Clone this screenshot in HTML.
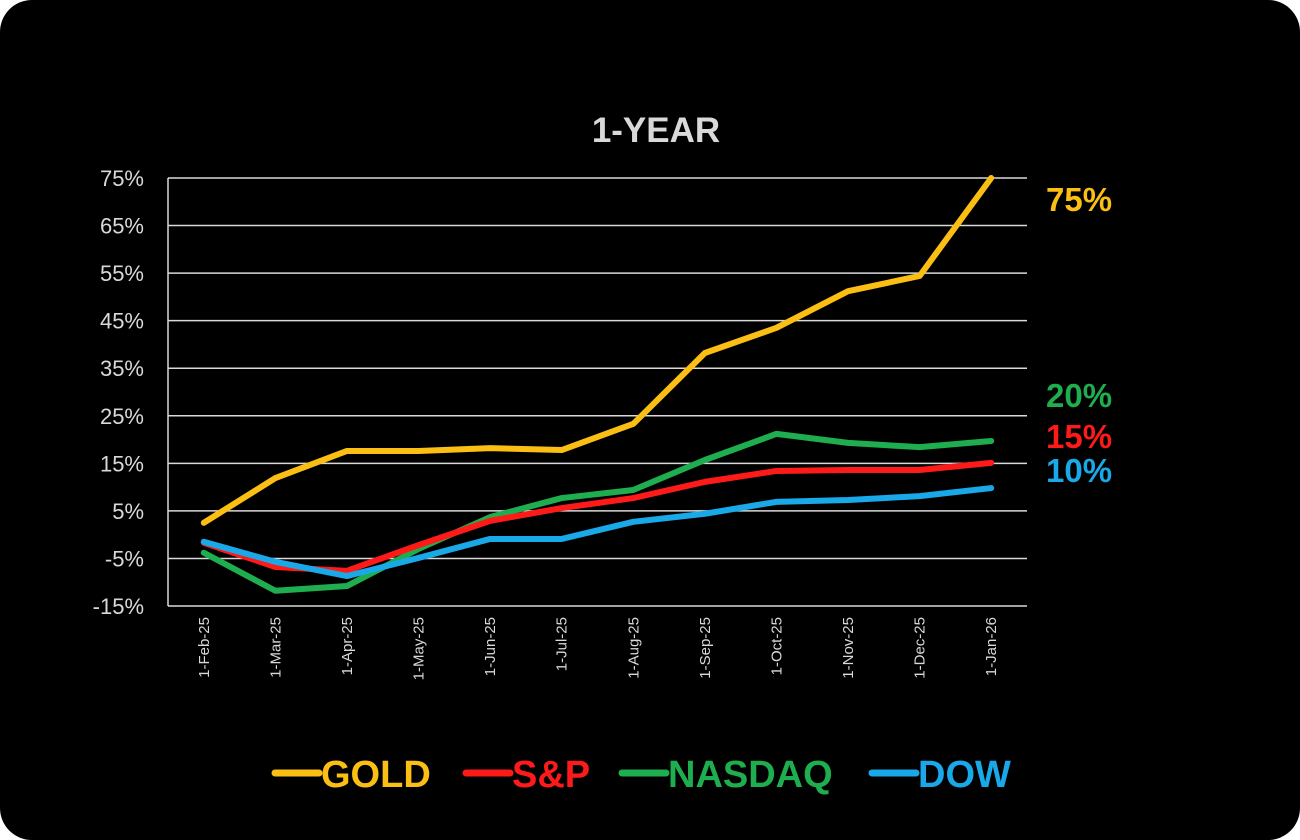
<!DOCTYPE html>
<html><head><meta charset="utf-8"><style>
html,body{margin:0;padding:0;background:#fff;width:1300px;height:840px;overflow:hidden}
#frame{position:absolute;left:0;top:0;width:1300px;height:840px;background:#000;border-radius:32px}
svg{position:absolute;left:0;top:0}
text{font-family:"Liberation Sans",Arial,sans-serif}
</style></head><body>
<div id="frame">
<svg id="chart" width="1300" height="840"></svg>
</div>
<script>
const categories=["1-Feb-25","1-Mar-25","1-Apr-25","1-May-25","1-Jun-25","1-Jul-25","1-Aug-25","1-Sep-25","1-Oct-25","1-Nov-25","1-Dec-25","1-Jan-26"];
const goldValues=[2.5,11.9,17.6,17.6,18.2,17.8,23.3,38.2,43.5,51.2,54.4,75];
const spValues=[-1.7,-6.8,-7.6,-2.2,2.9,5.6,7.7,11.1,13.4,13.6,13.6,15.1];
const nasdaqValues=[-3.8,-11.8,-10.8,-3,3.7,7.7,9.4,15.7,21.2,19.3,18.4,19.7];
const dowValues=[-1.5,-5.7,-8.7,-4.9,-0.9,-0.9,2.7,4.4,6.9,7.3,8.1,9.8];
const yTicks=[75,65,55,45,35,25,15,5,-5,-15];
const seriesNames=["GOLD","S&P","NASDAQ","DOW"];
const endLabels=["75%","20%","15%","10%"];

const NS="http://www.w3.org/2000/svg";
const svg=document.getElementById('chart');
const X0=168,X1=1027,Y0=178,Y1=606,YMAX=75,YMIN=-15;
const bw=(X1-X0)/categories.length;
function xs(i){return X0+bw*(i+0.5);}
function ys(v){return Y0+(YMAX-v)/(YMAX-YMIN)*(Y1-Y0);}
function mk(tag,attrs,parent){const e=document.createElementNS(NS,tag);for(const k in attrs)e.setAttribute(k,attrs[k]);(parent||svg).appendChild(e);return e;}

const title=mk('text',{x:656,y:142,'text-anchor':'middle','font-size':35,'font-weight':'bold',fill:'#d9d9d9'});
title.textContent='1-YEAR';



yTicks.forEach(t=>{
  const y=ys(t);
  const g=mk('line',{x1:X0,x2:X1,y1:y,y2:y,stroke:'#d9d9d9','stroke-width':1.5});
  
  
  const lb=mk('text',{x:144,y:y+8,'text-anchor':'end','font-size':22,fill:'#d9d9d9'});
  lb.textContent=t+'%';
  
  
});
const ax=mk('line',{x1:X0,x2:X0,y1:Y0,y2:Y1,stroke:'#d9d9d9','stroke-width':1.5});



categories.forEach((c,i)=>{
  const x=xs(i);
  const t=mk('text',{x:0,y:0,'text-anchor':'end','font-size':15,fill:'#d9d9d9',transform:`translate(${x+5},617) rotate(-90)`});
  t.textContent=c;
  
  
});

const series=[[goldValues,'#fbbf14'],[spValues,'#ff1a1a'],[nasdaqValues,'#1fae4f'],[dowValues,'#19a8e8']];
const order=[2,1,3,0];
order.forEach(k=>{
  const [vals,col]=series[k];
  const p=mk('polyline',{points:vals.map((v,i)=>xs(i)+','+ys(v)).join(' '),fill:'none',stroke:col,'stroke-width':6,'stroke-linejoin':'round','stroke-linecap':'round'});
  
  
});

const endY=[200,396,437,471],endCol=['#fbbf14','#1fae4f','#ff1a1a','#19a8e8'];
endLabels.forEach((l,i)=>{
  const t=mk('text',{x:1046,y:endY[i]+11,'font-size':33,'font-weight':'bold',fill:endCol[i]});
  t.textContent=l;
  
  
});

const legX=[275,466,622,872],legW=[160,130,220,140];
seriesNames.forEach((n,i)=>{
  const g=mk('g',{});
  
  
  mk('line',{x1:legX[i],x2:legX[i]+44,y1:773,y2:773,stroke:series[i][1],'stroke-width':7,'stroke-linecap':'round'},g);
  const t=mk('text',{x:legX[i]+46,y:787,'font-size':38,'font-weight':'bold',fill:series[i][1]},g);
  t.textContent=n;
});
</script>
</body></html>
